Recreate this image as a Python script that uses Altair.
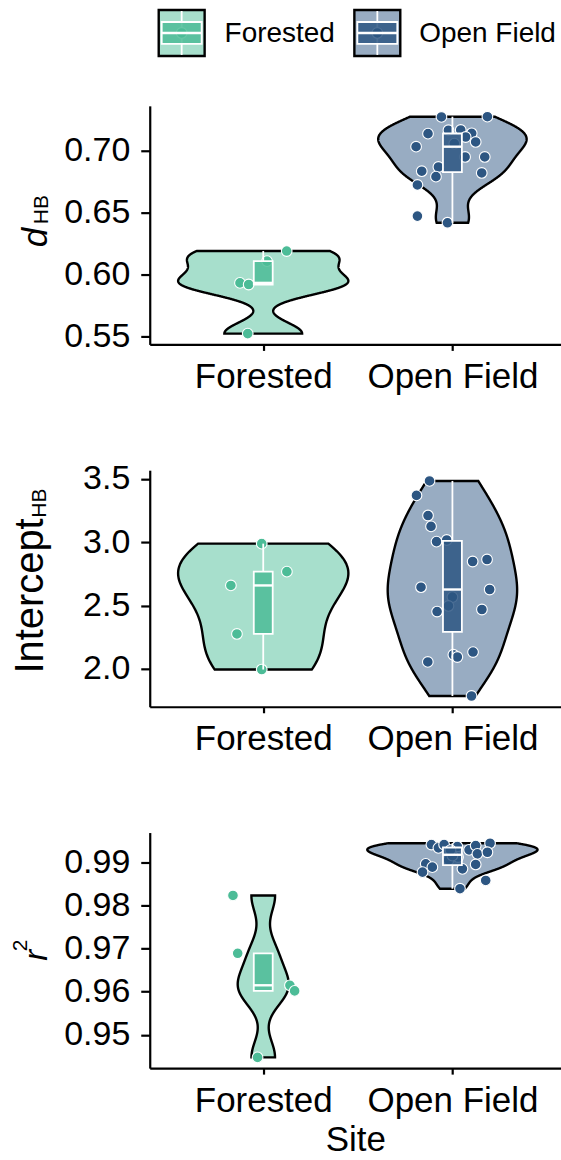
import altair as alt
import numpy as np
import pandas as pd

SITES = ["Forested", "Open Field"]
POINT_COLORS = ["#4CBC97", "#2D5682"]
VIOLIN_FILLS = ["#A7DFCC", "#98ACC2"]
FONT = "Liberation Sans"

# d_HB per site, with each point's horizontal jitter (category units)
dhb_forested = [0.6193, 0.6112, 0.5936, 0.5923, 0.5527]
dhb_forested_jitter = [0.124, 0.020, -0.123, -0.077, -0.082]
dhb_open = [0.7275, 0.7277, 0.7140, 0.7168, 0.7170, 0.7143, 0.7113, 0.7073,
            0.7035, 0.6952, 0.6952, 0.6871, 0.6837, 0.6793, 0.6823, 0.6726,
            0.6475, 0.6421, 0.7060]
dhb_open_jitter = [-0.058, 0.185, -0.129, -0.021, 0.044, 0.102, 0.070, 0.123,
                   -0.192, 0.067, 0.171, -0.074, -0.162, -0.087, 0.155, -0.185,
                   -0.185, -0.026, 0.010]

# Intercept_HB
int_forested = [2.989, 2.768, 2.659, 2.276, 1.995]
int_forested_jitter = [-0.008, 0.125, -0.171, -0.139, -0.008]
int_open = [3.484, 3.370, 3.211, 3.125, 3.005, 3.018, 2.848, 2.864, 2.645,
            2.627, 2.567, 2.497, 2.453, 2.469, 2.112, 2.094, 2.133, 2.055, 1.786]
int_open_jitter = [-0.121, -0.190, -0.129, -0.113, -0.084, -0.030, 0.107, 0.183,
                   -0.166, 0.197, 0.000, -0.021, -0.081, 0.156, 0.005, 0.026,
                   0.109, -0.130, 0.101]

# r^2
r2_forested = [0.9823, 0.9689, 0.9615, 0.9602, 0.9448]
r2_forested_jitter = [-0.160, -0.135, 0.141, 0.166, -0.030]
r2_open = [0.99408, 0.99332, 0.99408, 0.99362, 0.99286, 0.99385, 0.99438,
           0.99193, 0.99230, 0.98962, 0.98885, 0.98769, 0.98846, 0.98947,
           0.98577, 0.98386, 0.99050, 0.99120, 0.99150, 0.99280]
r2_open_jitter = [-0.111, -0.074, -0.044, 0.026, 0.088, 0.123, 0.199, 0.132,
                  0.185, -0.141, -0.106, -0.158, 0.053, 0.123, 0.176, 0.040,
                  -0.020, 0.030, 0.000, -0.010]

X_DOMAIN = [0.4, 2.574]
PANEL_W = 412
BOX_HALF = 0.05


def bw_nrd0(v):
    v = np.asarray(v, float)
    q1, q3 = np.percentile(v, [25, 75])
    lo = min(np.std(v, ddof=1), (q3 - q1) / 1.34)
    return 0.9 * lo * len(v) ** -0.2


def kde(v, n=512):
    v = np.asarray(v, float)
    h = bw_nrd0(v)
    grid = np.linspace(v.min(), v.max(), n)
    z = (grid[:, None] - v[None, :]) / h
    dens = np.exp(-0.5 * z ** 2).sum(axis=1) / (len(v) * h * np.sqrt(2 * np.pi))
    return grid, dens


def box_stats(v):
    v = np.asarray(v, float)
    q1, med, q3 = np.percentile(v, [25, 50, 75])
    iqr = q3 - q1
    lo = v[v >= q1 - 1.5 * iqr].min()
    hi = v[v <= q3 + 1.5 * iqr].max()
    return q1, med, q3, lo, hi


def panel(groups, height, ticks, fmt, title_layers, x_title=None, extra=None):
    pts, vio, box, whisk = [], [], [], []
    dens_all = {}
    for i, (site, vals, jit) in enumerate(groups):
        pos = i + 1
        for v, j in zip(vals, jit):
            pts.append({"site": site, "value": v, "xj": pos + j})
        dens_all[site] = kde(vals)
        q1, med, q3, lo, hi = box_stats(vals)
        box.append({"site": site, "q1": q1, "med": med, "q3": q3,
                    "xlo": pos - BOX_HALF, "xhi": pos + BOX_HALF})
        whisk.append({"site": site, "pos": pos, "a": lo, "b": q1})
        whisk.append({"site": site, "pos": pos, "a": q3, "b": hi})
    dmax = max(d.max() for _, d in dens_all.values())
    for i, (site, _, _) in enumerate(groups):
        grid, d = dens_all[site]
        half = 0.45 * d / dmax
        for y, w in zip(grid, half):
            vio.append({"site": site, "y": y, "xlo": i + 1 - w, "xhi": i + 1 + w})

    allv = np.concatenate([np.asarray(g[1], float) for g in groups])
    span = allv.max() - allv.min()
    y_dom = [allv.min() - 0.05 * span, allv.max() + 0.05 * span]

    xs = alt.Scale(domain=X_DOMAIN, nice=False, zero=False)
    ys = alt.Scale(domain=y_dom, nice=False, zero=False)
    x_axis = alt.Axis(values=[1, 2], labelExpr="datum.value == 1 ? 'Forested' : 'Open Field'",
                      title=x_title)
    y_axis = alt.Axis(values=ticks, format=fmt, title=None)

    def X(f):
        return alt.X(f, scale=xs, axis=x_axis)

    def Y(f):
        return alt.Y(f, scale=ys, axis=y_axis)

    fill = alt.Fill("site:N", scale=alt.Scale(domain=SITES, range=VIOLIN_FILLS), legend=None)
    col = alt.Color("site:N", scale=alt.Scale(domain=SITES, range=POINT_COLORS), legend=None)

    violin = alt.Chart(pd.DataFrame(vio)).mark_area(
        orient="horizontal", stroke="black", strokeWidth=2.4, fillOpacity=1
    ).encode(x=X("xlo:Q"), x2="xhi:Q", y=Y("y:Q"), fill=fill, detail="site:N")

    points = alt.Chart(pd.DataFrame(pts)).mark_circle(
        size=115, stroke="white", strokeWidth=1.1, opacity=1
    ).encode(x=X("xj:Q"), y=Y("value:Q"), color=col)

    whiskers = alt.Chart(pd.DataFrame(whisk)).mark_rule(
        color="white", strokeWidth=1.8
    ).encode(x=X("pos:Q"), y=Y("a:Q"), y2="b:Q")

    boxes = alt.Chart(pd.DataFrame(box)).mark_rect(
        stroke="white", strokeWidth=1.8, fillOpacity=0.85
    ).encode(x=X("xlo:Q"), x2="xhi:Q", y=Y("q1:Q"), y2="q3:Q", color=col)

    medians = alt.Chart(pd.DataFrame(box)).mark_rule(
        color="white", strokeWidth=2.4
    ).encode(x=X("xlo:Q"), x2="xhi:Q", y=Y("med:Q"))

    layers = [violin, points, whiskers, boxes, medians] + title_layers + (extra or [])
    return alt.layer(*layers).properties(width=PANEL_W, height=height)


one = pd.DataFrame({"k": [0]})


def label(text, x, y, size, style="normal", angle=270, align="center", baseline="alphabetic"):
    return alt.Chart(one).mark_text(
        text=text, font=FONT, fontSize=size, fontStyle=style, angle=angle,
        align=align, baseline=baseline, color="black"
    ).encode(x=alt.value(x), y=alt.value(y))


# legend keys drawn above the first panel
def legend_key(cx, cy, i, name, tx):
    s = 23
    return [
        alt.Chart(one).mark_rect(fill=VIOLIN_FILLS[i], stroke="black", strokeWidth=2.4).encode(
            x=alt.value(cx - s), x2=alt.value(cx + s), y=alt.value(cy - s), y2=alt.value(cy + s)),
        alt.Chart(one).mark_rule(color="white", strokeWidth=1.8).encode(
            x=alt.value(cx), y=alt.value(cy - s + 1), y2=alt.value(cy + s - 1)),
        alt.Chart(one).mark_circle(size=115, color=POINT_COLORS[i], stroke="white", strokeWidth=1.1, opacity=1).encode(
            x=alt.value(cx), y=alt.value(cy)),
        alt.Chart(one).mark_rect(fill=POINT_COLORS[i], fillOpacity=0.85, stroke="white", strokeWidth=1.8).encode(
            x=alt.value(cx - 20), x2=alt.value(cx + 20), y=alt.value(cy - 11), y2=alt.value(cy + 11)),
        alt.Chart(one).mark_rule(color="white", strokeWidth=2.4).encode(
            x=alt.value(cx - 20), x2=alt.value(cx + 20), y=alt.value(cy)),
        alt.Chart(one).mark_text(text=name, font=FONT, fontSize=28, align="left",
                                 baseline="middle", color="black").encode(
            x=alt.value(tx), y=alt.value(cy + 1)),
    ]


legend_layers = legend_key(32, -73, 0, "Forested", 75) + legend_key(228, -73, 1, "Open Field", 270)

p1 = panel(
    [("Forested", dhb_forested, dhb_forested_jitter), ("Open Field", dhb_open, dhb_open_jitter)],
    239, [0.55, 0.60, 0.65, 0.70], ".2f",
    [label("d", -103, 132, 35, style="italic"), label("HB", -102, 104, 21)],
    extra=legend_layers,
)
p2 = panel(
    [("Forested", int_forested, int_forested_jitter), ("Open Field", int_open, int_open_jitter)],
    237, [2.0, 2.5, 3.0, 3.5], ".1f",
    [label("Intercept", -107, 126, 40), label("HB", -104, 33, 21)],
)
p3 = panel(
    [("Forested", r2_forested, r2_forested_jitter), ("Open Field", r2_open, r2_open_jitter)],
    236, [0.95, 0.96, 0.97, 0.98, 0.99], ".2f",
    [label("r", -103, 123, 33, style="italic"), label("2", -123, 113, 21)],
    x_title="Site",
)

chart = alt.vconcat(p1, p2, p3, spacing=126, bounds="flush").properties(
    padding={"left": 10, "top": 7, "right": 0, "bottom": 0}
).configure_view(stroke=None).configure_axis(
    domainColor="black", domainWidth=2.2, tickColor="black", tickWidth=2.2,
    grid=False, labelFont=FONT, labelFontSize=35,
    labelColor="black", titleFont=FONT, titleFontSize=35, titleFontWeight="normal",
    titleColor="black"
).configure_axisX(tickSize=6, labelPadding=9, titlePadding=5).configure_axisY(
    tickSize=9, labelPadding=11, labelFontSize=34)

chart.save("out.html", embed_options={"renderer": "svg", "actions": False})
